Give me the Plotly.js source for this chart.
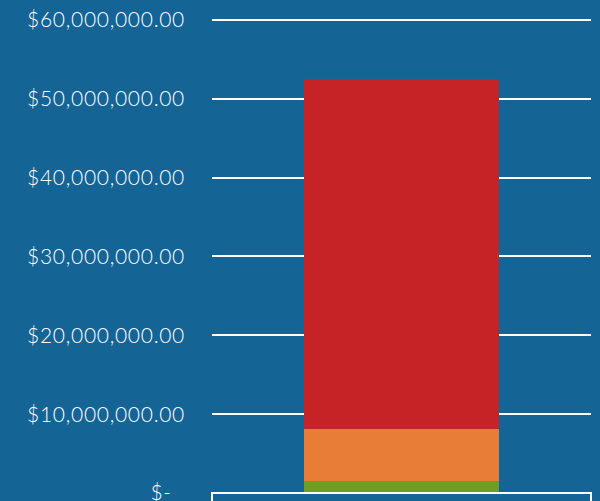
<!DOCTYPE html>
<html>
<head>
<meta charset="utf-8">
<script src="https://cdn.plot.ly/plotly-3.0.1.min.js"></script>
<style>html,body{margin:0;padding:0;background:#156496;} .ytick text{letter-spacing:0.7px;}</style>
</head>
<body>
<div id="chart" style="width:600px;height:501px;"></div>
<script>
const categories = ["Total"];
const seriesNames = ["Green", "Orange", "Red"];
const greenValues = [1550000];
const orangeValues = [6600000];
const redValues = [44350000];
const tickValues = [0, 10000000, 20000000, 30000000, 40000000, 50000000, 60000000];
const tickLabels = ["$-\u2002\u200A", "$10,000,000.00", "$20,000,000.00", "$30,000,000.00", "$40,000,000.00", "$50,000,000.00", "$60,000,000.00"];

const colors = ["#6A9F22", "#E87D37", "#C62326"];
const vals = [greenValues, orangeValues, redValues];
const traces = vals.map((v, i) => ({
  type: "bar", x: categories, y: v, name: seriesNames[i],
  marker: {color: colors[i], line: {width: 0}}, hoverinfo: "none"
}));

const layout = {
  width: 600, height: 501,
  margin: {l: 212, r: 9, t: 12, b: 8},
  paper_bgcolor: "#156496", plot_bgcolor: "#156496",
  barmode: "stack", bargap: 0.483, showlegend: false,
  font: {family: "Lato, 'Open Sans', sans-serif", color: "#ffffff", size: 21, weight: 300},
  xaxis: {showticklabels: false, showgrid: false, zeroline: false, showline: false, range: [-0.5, 0.5]},
  yaxis: {range: [0, 61000000], tickmode: "array", tickvals: tickValues, ticktext: tickLabels,
          showgrid: true, gridcolor: "#ffffff", gridwidth: 2, zeroline: false, showline: false,
          ticks: "", ticklabelstandoff: 26, ticklabeloverflow: "allow",
          tickfont: {size: 21, color: "#ffffff", weight: 300}},
  shapes: [{type: "rect", xref: "paper", yref: "paper", x0: 0, x1: 1, y0: -0.05, y1: 0,
            line: {color: "#ffffff", width: 2}, fillcolor: "rgba(0,0,0,0)", layer: "above"}]
};
Plotly.newPlot("chart", traces, layout, {displayModeBar: false, staticPlot: true});
</script>
</body>
</html>
